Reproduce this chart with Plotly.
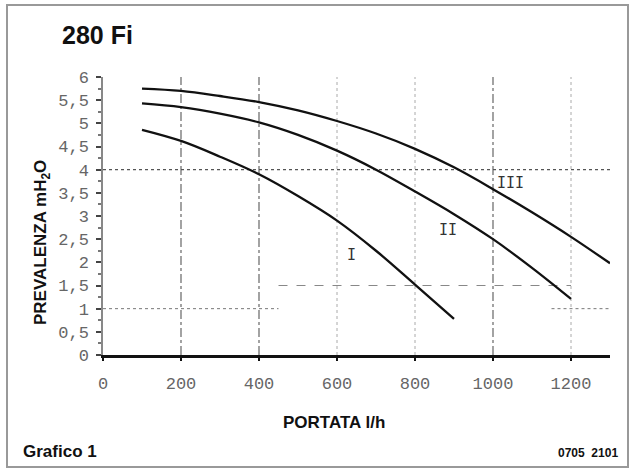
import plotly.graph_objects as go

# ---------------- data ----------------
flow_III = [100, 200, 300, 400, 500, 600, 700, 800, 900, 1000, 1100, 1200, 1300]
head_III = [5.75, 5.70, 5.59, 5.46, 5.28, 5.05, 4.78, 4.45, 4.05, 3.58, 3.08, 2.55, 1.98]

flow_II = [100, 200, 300, 400, 500, 600, 700, 800, 900, 1000, 1100, 1200]
head_II = [5.43, 5.35, 5.21, 5.02, 4.75, 4.41, 4.00, 3.53, 3.04, 2.50, 1.88, 1.21]

flow_I = [100, 200, 300, 400, 500, 600, 700, 800, 900]
head_I = [4.86, 4.62, 4.28, 3.90, 3.43, 2.90, 2.25, 1.52, 0.78]

curve_names = ["I", "II", "III"]
label_x = [638, 885, 1044]
label_y = [2.16, 2.70, 3.72]

x_ticks = [0, 200, 400, 600, 800, 1000, 1200]
x_ticktext = ["0", "200", "400", "600", "800", "1000", "1200"]
y_ticks = [0, 0.5, 1, 1.5, 2, 2.5, 3, 3.5, 4, 4.5, 5, 5.5, 6]
y_ticktext = ["0", "0,5", "1", "1,5", "2", "2,5", "3", "3,5", "4", "4,5", "5", "5,5", "6"]

vgrid_dark = [200, 400, 1000]
vgrid_light = [600, 800, 1200]

# ---------------- layout helpers ----------------
W, H = 632, 470
L, R, T, B = 103, 610, 77, 355


def px(x):
    return (x - L) / (R - L)


def py(y):
    return (B - y) / (B - T)


fig = go.Figure()
for xs, ys in [(flow_I, head_I), (flow_II, head_II), (flow_III, head_III)]:
    fig.add_trace(go.Scatter(x=xs, y=ys, mode="lines",
                             line=dict(color="#111111", width=2.3, shape="spline"),
                             showlegend=False, hoverinfo="skip"))

shapes = []
for gx in vgrid_dark:
    shapes.append(dict(type="line", xref="x", yref="paper", x0=gx, x1=gx, y0=0, y1=1,
                       line=dict(color="#666666", width=1.2, dash="dashdot"), layer="below"))
for gx in vgrid_light:
    shapes.append(dict(type="line", xref="x", yref="paper", x0=gx, x1=gx, y0=0, y1=1,
                       line=dict(color="#aaaaaa", width=1, dash="dot"), layer="below"))
# horizontal partial grid lines
shapes.append(dict(type="line", xref="paper", yref="y", x0=0, x1=1, y0=4, y1=4,
                   line=dict(color="#555555", width=1.3, dash="dot"), layer="below"))
shapes.append(dict(type="line", xref="x", yref="y", x0=450, x1=1200, y0=1.5, y1=1.5,
                   line=dict(color="#888888", width=1, dash="dash"), layer="below"))
shapes.append(dict(type="line", xref="x", yref="y", x0=0, x1=450, y0=1, y1=1,
                   line=dict(color="#777777", width=1, dash="dot"), layer="below"))
shapes.append(dict(type="line", xref="x", yref="y", x0=1150, x1=1300, y0=1, y1=1,
                   line=dict(color="#777777", width=1, dash="dot"), layer="below"))
# outer frame
shapes.append(dict(type="rect", xref="paper", yref="paper",
                   x0=px(7), x1=px(628), y0=py(467), y1=py(5),
                   line=dict(color="#999999", width=2)))

annotations = []
for name, lx, ly in zip(curve_names, label_x, label_y):
    annotations.append(dict(x=lx, y=ly, xref="x", yref="y", text=name, showarrow=False,
                            font=dict(family="DejaVu Sans Mono", size=15, color="#333333")))

annotations += [
    dict(x=px(60), y=py(35), xref="paper", yref="paper", xanchor="left", yanchor="middle",
         text="<b>280 Fi</b>", showarrow=False,
         font=dict(family="Liberation Sans", size=25, color="#111111")),
    dict(x=px(42), y=py(243), xref="paper", yref="paper", xanchor="center", yanchor="middle",
         text="<b>PREVALENZA mH<sub>2</sub>O</b>", textangle=-90, showarrow=False,
         font=dict(family="Liberation Sans", size=17, color="#111111")),
    dict(x=px(334), y=py(422), xref="paper", yref="paper", xanchor="center", yanchor="middle",
         text="<b>PORTATA l/h</b>", showarrow=False,
         font=dict(family="Liberation Sans", size=17, color="#111111")),
    dict(x=px(21), y=py(451), xref="paper", yref="paper", xanchor="left", yanchor="middle",
         text="<b>Grafico 1</b>", showarrow=False,
         font=dict(family="Liberation Sans", size=17, color="#111111")),
    dict(x=px(620), y=py(453), xref="paper", yref="paper", xanchor="right", yanchor="middle",
         text="<b>0705  2101</b>", showarrow=False,
         font=dict(family="Liberation Sans", size=12, color="#111111")),
]

fig.update_layout(
    width=W, height=H, autosize=False,
    margin=dict(l=L, r=W - R, t=T, b=H - B, pad=0),
    paper_bgcolor="white", plot_bgcolor="white",
    showlegend=False,
    shapes=shapes,
    annotations=annotations,
    xaxis=dict(range=[0, 1300], tickmode="array", tickvals=x_ticks, ticktext=x_ticktext,
               showgrid=False, zeroline=False, showline=True, linecolor="#111111", linewidth=2.5,
               ticks="outside", ticklen=3, tickwidth=2, tickcolor="#111111",
               ticklabelstandoff=8,
               tickfont=dict(family="Liberation Mono", size=17, color="#666666")),
    yaxis=dict(range=[0, 6], tickmode="array", tickvals=y_ticks, ticktext=y_ticktext,
               showgrid=False, zeroline=False, showline=True, linecolor="#888888", linewidth=1.5,
               ticks="outside", ticklen=5, tickwidth=2, tickcolor="#444444",
               ticklabelstandoff=4,
               minor=dict(ticks="outside", dtick=0.25, ticklen=3, tickcolor="#777777"),
               tickfont=dict(family="Liberation Mono", size=17, color="#666666")),
)

fig.write_html("out.html")
